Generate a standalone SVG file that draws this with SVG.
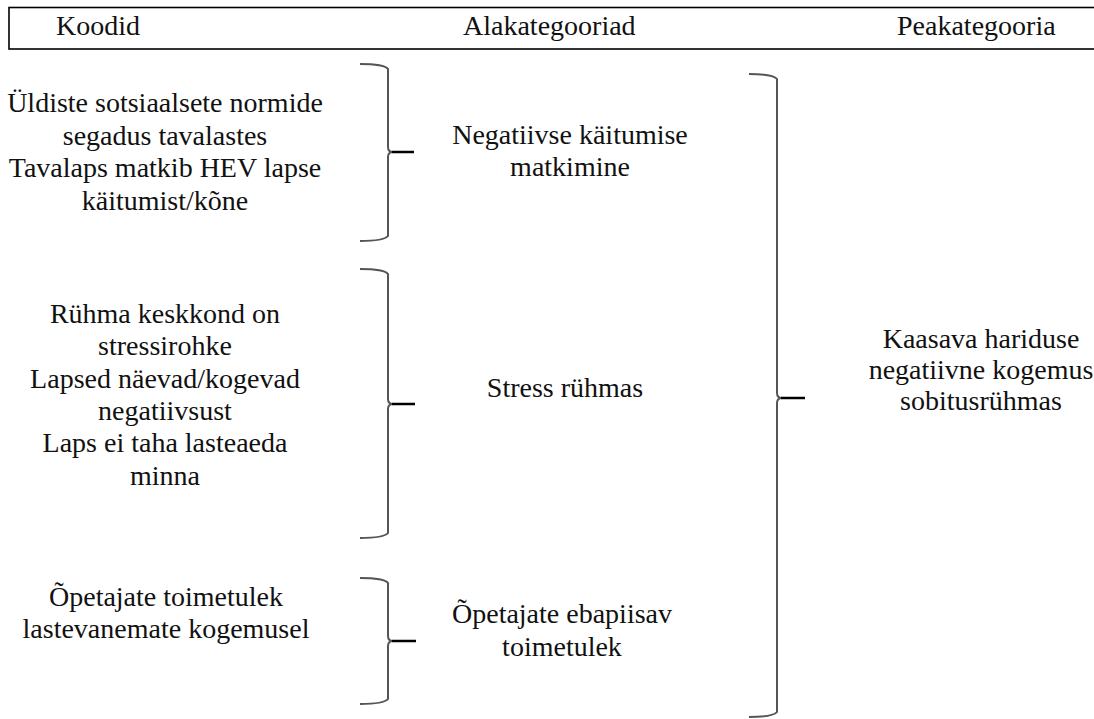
<svg xmlns="http://www.w3.org/2000/svg" width="1094" height="719" viewBox="0 0 1094 719">
<style>
text{font-size:28px;fill:#111;text-anchor:middle}
.hdr{text-anchor:start}
.brace{fill:none;stroke:#555;stroke-width:2}
.tick{stroke:#000;stroke-width:2.5}
</style>
<rect width="1094" height="719" fill="#fff"/>
<g font-family="'Liberation Serif', Tinos, 'Nimbus Roman', 'DejaVu Serif', serif">
<g id="header">
<rect x="9" y="7.5" width="1100" height="41.5" fill="none" stroke="#000" stroke-width="1.6"/>
<text class="hdr" x="56" y="35">Koodid</text>
<text class="hdr" x="463" y="35">Alakategooriad</text>
<text class="hdr" x="897" y="35">Peakategooria</text>
</g>
<g id="connectors">
<path class="brace" d="M360,64 Q384,64 388,69 L388,147 Q388,152 393,152 Q388,152 388,157 L388,236 Q384,241 360,241"/>
<line class="tick" x1="392" y1="152" x2="414" y2="152"/>
<path class="brace" d="M360,269 Q384,269 388,274 L388,399 Q388,404 393,404 Q388,404 388,409 L388,533 Q384,538 360,538"/>
<line class="tick" x1="392" y1="404" x2="415" y2="404"/>
<path class="brace" d="M360,578 Q384,578 388,583 L388,636 Q388,641 393,641 Q388,641 388,646 L388,699 Q384,704 360,704"/>
<line class="tick" x1="392" y1="641" x2="416" y2="641"/>
<path class="brace" d="M749,74 Q773,74 777,79 L777,393 Q777,398 782,398 Q777,398 777,403 L777,712 Q773,717 749,717"/>
<line class="tick" x1="781" y1="398" x2="805" y2="398"/>
</g>
<g id="codes1">
<text x="165" y="112">Üldiste sotsiaalsete normide</text>
<text x="165" y="144.5">segadus tavalastes</text>
<text x="165" y="177">Tavalaps matkib HEV lapse</text>
<text x="165" y="209.5">käitumist/kõne</text>
</g>
<g id="codes2">
<text x="165" y="323">Rühma keskkond on</text>
<text x="165" y="355">stressirohke</text>
<text x="165" y="388">Lapsed näevad/kogevad</text>
<text x="165" y="420">negatiivsust</text>
<text x="165" y="452">Laps ei taha lasteaeda</text>
<text x="165" y="485">minna</text>
</g>
<g id="codes3">
<text x="166" y="606">Õpetajate toimetulek</text>
<text x="166" y="638">lastevanemate kogemusel</text>
</g>
<g id="sub1">
<text x="570" y="144">Negatiivse käitumise</text>
<text x="570" y="176">matkimine</text>
</g>
<g id="sub2">
<text x="565" y="397">Stress rühmas</text>
</g>
<g id="sub3">
<text x="562" y="623">Õpetajate ebapiisav</text>
<text x="562" y="656">toimetulek</text>
</g>
<g id="main">
<text x="981" y="348">Kaasava hariduse</text>
<text x="981" y="379">negatiivne kogemus</text>
<text x="981" y="410">sobitusrühmas</text>
</g>
</g>
</svg>
